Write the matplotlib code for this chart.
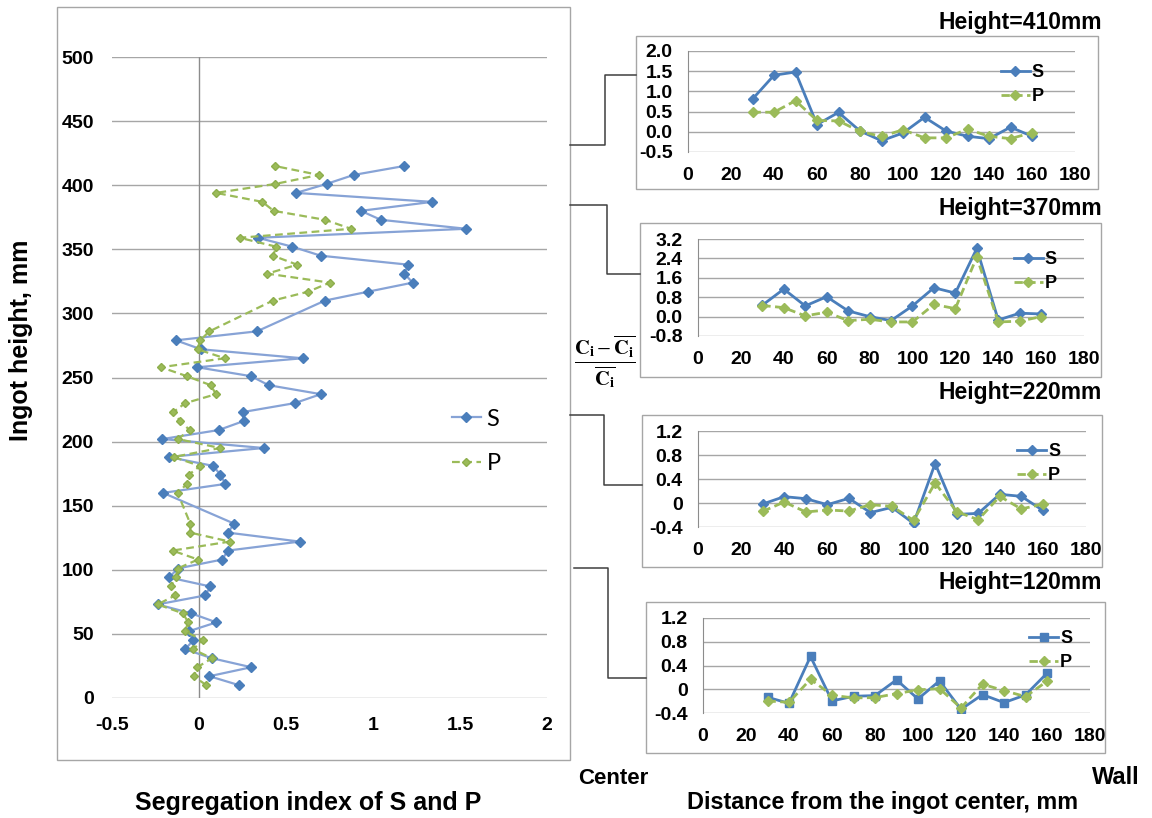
"""Segregation index of S and P along ingot height + radial profiles at 4 heights."""
import matplotlib

matplotlib.use("Agg")
import matplotlib.pyplot as plt
from matplotlib.lines import Line2D
from matplotlib.patches import Rectangle

# ---- data: left chart (ingot height, mm vs segregation index) ----
heights = [10, 17, 24, 31, 38, 45, 52, 59, 66, 73, 80, 87, 94, 101, 108, 115, 122, 129, 136,
           160, 167, 174, 181, 188, 195, 202, 209, 216, 223, 230, 237, 244, 251, 258, 265, 272,
           279, 286, 310, 317, 324, 331, 338, 345, 352, 359, 366, 373, 380, 387, 394, 401, 408, 415]
s_index = [0.23, 0.06, 0.30, 0.075, -0.08, -0.033, -0.06, 0.10, -0.044, -0.238, 0.036, 0.065,
           -0.171, -0.123, 0.133, 0.166, 0.579, 0.166, 0.202,
           -0.206, 0.152, 0.123, 0.083, -0.175, 0.371, -0.21, 0.113, 0.256, 0.25, 0.55, 0.70,
           0.40, 0.30, -0.01, 0.595, 0.012, -0.133, 0.333,
           0.724, 0.974, 1.228, 1.18, 1.203, 0.70, 0.537, 0.339, 1.536, 1.045, 0.93, 1.34,
           0.558, 0.733, 0.889, 1.18]
p_index = [0.042, -0.031, -0.01, 0.075, -0.035, 0.023, -0.081, -0.062, -0.092, -0.238, -0.137,
           -0.163, -0.131, -0.123, -0.006, -0.152, 0.177, -0.05, -0.05,
           -0.123, -0.069, -0.06, 0.006, -0.146, 0.121, -0.121, -0.054, -0.108, -0.148, -0.079,
           0.098, 0.067, -0.069, -0.219, 0.148, -0.008, 0.006, 0.06,
           0.425, 0.629, 0.751, 0.393, 0.564, 0.425, 0.445, 0.233, 0.874, 0.724, 0.429, 0.364,
           0.098, 0.439, 0.689, 0.435]

# ---- data: right charts (distance from center, mm) ----
dist = [30, 40, 50, 60, 70, 80, 90, 100, 110, 120, 130, 140, 150, 160]
s_410 = [0.81, 1.40, 1.48, 0.18, 0.48, 0.02, -0.22, -0.03, 0.36, 0.02, -0.11, -0.17, 0.115, -0.11]
p_410 = [0.485, 0.485, 0.77, 0.28, 0.27, 0.01, -0.115, 0.05, -0.15, -0.15, 0.065, -0.11, -0.17, -0.02]
s_370 = [0.47, 1.135, 0.44, 0.82, 0.235, 0.0, -0.166, 0.44, 1.19, 0.97, 2.81, -0.14, 0.14, 0.11]
p_370 = [0.457, 0.37, 0.03, 0.18, -0.166, -0.11, -0.22, -0.22, 0.50, 0.33, 2.46, -0.22, -0.19, 0.0]
s_220 = [-0.017, 0.106, 0.072, -0.028, 0.078, -0.16, -0.072, -0.34, 0.658, -0.19, -0.173, 0.145, 0.111, -0.123]
p_220 = [-0.14, 0.017, -0.15, -0.117, -0.134, -0.028, -0.056, -0.29, 0.334, -0.145, -0.279, 0.111, -0.10, -0.017]
s_120 = [-0.135, -0.237, 0.552, -0.197, -0.118, -0.107, 0.158, -0.163, 0.141, -0.338, -0.09, -0.225, -0.096, 0.27]
p_120 = [-0.197, -0.22, 0.169, -0.101, -0.146, -0.141, -0.073, -0.011, 0.011, -0.315, 0.085, -0.023, -0.124, 0.135]

panel_titles = ["Height=410mm", "Height=370mm", "Height=220mm", "Height=120mm"]
x_ticks = [0, 20, 40, 60, 80, 100, 120, 140, 160, 180]
y_ticks_410 = [-0.5, 0.0, 0.5, 1.0, 1.5, 2.0]
y_labels_410 = ["-0.5", "0.0", "0.5", "1.0", "1.5", "2.0"]
y_ticks_370 = [-0.8, 0.0, 0.8, 1.6, 2.4, 3.2]
y_labels_370 = ["-0.8", "0.0", "0.8", "1.6", "2.4", "3.2"]
y_ticks_small = [-0.4, 0.0, 0.4, 0.8, 1.2]
y_labels_small = ["-0.4", "0", "0.4", "0.8", "1.2"]

W, H = 1152, 818
BLUE = "#4A7EBB"
BLUE_LINE = "#87A3D6"
GREEN = "#9BBB59"
GRID = "#A6A6A6"
BOLD = dict(family="Liberation Sans", weight="bold")


def fig_box(x0, y0, x1, y1):
    """픽셀 좌표(좌상단 원점) → figure fraction [left, bottom, w, h]."""
    return [x0 / W, 1 - y1 / H, (x1 - x0) / W, (y1 - y0) / H]


def fx(x):
    return x / W


def fy(y):
    return 1 - y / H


fig = plt.figure(figsize=(W / 100, H / 100), dpi=100)

# outer frames
for x0, y0, x1, y1 in [(57, 7, 570, 760), (636, 36, 1098, 189), (640, 223, 1101, 377),
                       (642, 415, 1102, 567), (646, 602, 1105, 753)]:
    fig.add_artist(Rectangle((fx(x0), fy(y1)), fx(x1 - x0), (y1 - y0) / H,
                             transform=fig.transFigure, fill=False, edgecolor=GRID, lw=1))

# connector lines
for pts in [[(570, 145), (605, 145), (605, 75), (636, 75)],
            [(570, 205), (607, 205), (607, 274), (640, 274)],
            [(570, 415), (604, 415), (604, 485), (642, 485)],
            [(574, 568), (608, 568), (608, 678), (646, 678)]]:
    fig.add_artist(Line2D([fx(p[0]) for p in pts], [fy(p[1]) for p in pts],
                          transform=fig.transFigure, color="#3F3F3F", lw=1.1))

# ---- left chart ----
ax = fig.add_axes(fig_box(112, 57, 547, 698))
ax.plot(s_index, heights, color=BLUE_LINE, lw=1.6, marker="D", ms=5,
        mfc=BLUE, mec=BLUE, label="S")
ax.plot(p_index, heights, color=GREEN, lw=1.6, ls=(0, (3.5, 2)), marker="D", ms=4.5,
        mfc=GREEN, mec="#8DAE4C", label="P")
ax.set_xlim(-0.5, 2)
ax.set_ylim(0, 500)
ax.set_xticks([-0.5, 0, 0.5, 1, 1.5, 2])
ax.set_xticklabels(["-0.5", "0", "0.5", "1", "1.5", "2"])
ax.set_yticks(range(0, 501, 50))
for sp in ax.spines.values():
    sp.set_visible(False)
ax.axvline(0, color="#8C8C8C", lw=1, zorder=1)
ax.yaxis.grid(True, color=GRID, lw=1)
ax.set_axisbelow(True)
ax.tick_params(length=0, labelsize=14)
ax.tick_params(axis="y", pad=13)
ax.tick_params(axis="x", pad=14)
for lab in ax.get_xticklabels() + ax.get_yticklabels():
    lab.set_fontweight("bold")
    lab.set_family("Liberation Sans")
ax.legend(loc="upper left", bbox_to_anchor=(0.755, 0.47), frameon=False,
          prop={"family": "Lato", "size": 17}, handlelength=1.2, handletextpad=0.25,
          labelspacing=1.0, borderpad=0)

# ---- right charts ----
panels = [
    ((688, 51, 1075, 152), s_410, p_410, y_ticks_410, y_labels_410, "D", (0.785, 0.96), 22),
    ((698, 239, 1084, 336), s_370, p_370, y_ticks_370, y_labels_370, "D", (0.795, 0.97), 208),
    ((698, 431, 1086, 527), s_220, p_220, y_ticks_small, y_labels_small, "D", (0.80, 0.97), 393),
    ((703, 618, 1090, 713), s_120, p_120, y_ticks_small, y_labels_small, "s", (0.82, 0.97), 583),
]
for (box, s_vals, p_vals, yt, yl, smark, anchor, title_y), title in zip(panels, panel_titles):
    a = fig.add_axes(fig_box(*box))
    a.plot(dist, s_vals, color=BLUE, lw=2, marker=smark, ms=6 if smark == "s" else 5, label="S")
    a.plot(dist, p_vals, color=GREEN, lw=2, ls=(0, (3, 1.6)), marker="D", ms=5, label="P")
    a.set_xlim(0, 180)
    a.set_ylim(yt[0], yt[-1])
    a.set_xticks(x_ticks)
    a.set_yticks(yt)
    a.set_yticklabels(yl)
    for name in ["top", "right", "bottom"]:
        a.spines[name].set_visible(False)
    a.spines["left"].set_color("#8C8C8C")
    a.yaxis.grid(True, color=GRID, lw=1)
    a.set_axisbelow(True)
    a.tick_params(length=0, labelsize=14)
    a.tick_params(axis="y", pad=11)
    a.tick_params(axis="x", pad=11)
    for lab in a.get_xticklabels() + a.get_yticklabels():
        lab.set_fontweight("bold")
        lab.set_family("Liberation Sans")
    a.legend(loc="upper left", bbox_to_anchor=anchor, frameon=False,
             prop={"family": "Liberation Sans", "weight": "bold", "size": 13},
             handlelength=1.6, handletextpad=0.1, labelspacing=0.4, borderpad=0)
    fig.text(fx(1102), fy(title_y), title, ha="right", va="center", fontsize=16.5, **BOLD)

# texts
plt.rcParams["mathtext.fontset"] = "stix"
fig.text(fx(605), fy(362),
         r"$\frac{\mathbf{C}_{\mathbf{i}}-\overline{\mathbf{C}_{\mathbf{i}}}}"
         r"{\overline{\mathbf{C}_{\mathbf{i}}}}$",
         fontsize=21, ha="center", va="center")
fig.text(fx(21), fy(340), "Ingot height, mm", rotation=90, ha="center", va="center",
         fontsize=18, **BOLD)
fig.text(fx(308), fy(803), "Segregation index of S and P", ha="center", va="center",
         fontsize=18, **BOLD)
fig.text(fx(613), fy(778), "Center", ha="center", va="center", fontsize=16, **BOLD)
fig.text(fx(1116), fy(778), "Wall", ha="center", va="center", fontsize=17, **BOLD)
fig.text(fx(883), fy(803), "Distance from the ingot center, mm", ha="center", va="center",
         fontsize=16.8, **BOLD)

fig.savefig("out.png", dpi=100)
